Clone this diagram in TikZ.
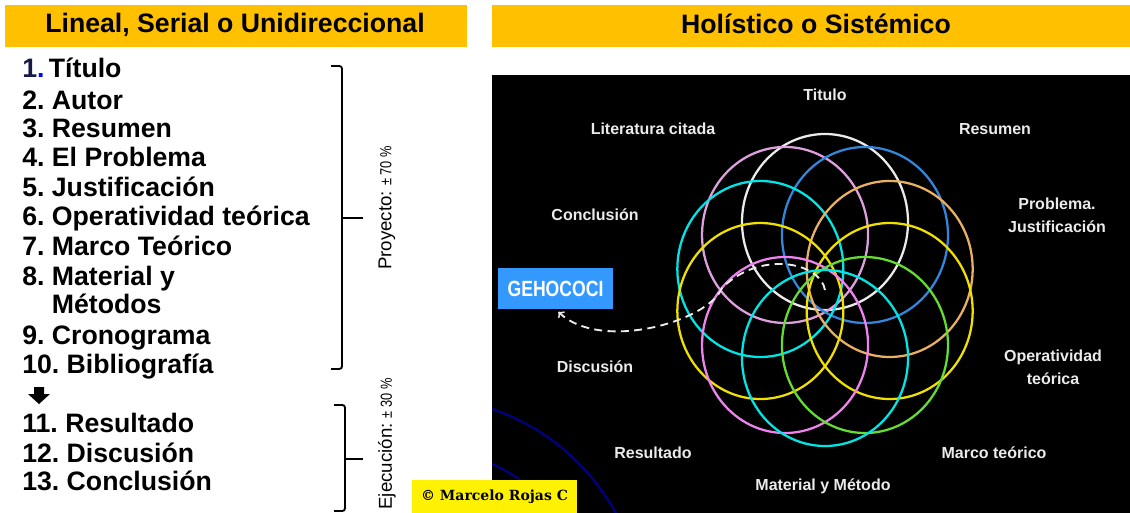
\documentclass[tikz,border=0pt]{standalone}
\usepackage{fontspec}
\setmainfont{Liberation Sans}
\newfontfamily\narrowfont[FakeStretch=0.8]{Liberation Sans}
\newfontfamily\copyfont{DejaVu Serif}
\usetikzlibrary{arrows,positioning,calc}
\definecolor{orange1}{RGB}{255,192,0}
\definecolor{gehoblue}{RGB}{51,153,255}
\definecolor{navy1}{RGB}{0,0,128}
\definecolor{dark1}{RGB}{25,25,70}
\definecolor{cwhite}{RGB}{235,235,235}
\definecolor{cplum}{RGB}{221,160,221}
\definecolor{cblue}{RGB}{50,135,220}
\definecolor{ccyan}{RGB}{0,230,230}
\definecolor{ctan}{RGB}{232,176,96}
\definecolor{cyellow}{RGB}{240,224,0}
\definecolor{cviolet}{RGB}{238,130,238}
\definecolor{cgreen}{RGB}{100,220,50}
\frenchspacing

\begin{document}
\begin{tikzpicture}
[x=0.75pt,y=-0.75pt,
header/.style={anchor=base, inner sep=0pt,
font=\bfseries\fontsize{20}{24}\selectfont},
item/.style={anchor=base west, inner sep=0pt,
font=\bfseries\fontsize{20}{24}\selectfont},
lbl/.style={text=cwhite, align=center, inner sep=0pt,
font=\bfseries\fontsize{12}{17}\selectfont},
ring/.style={line width=1.7pt},
brace/.style={line width=1.4pt, rounded corners=2pt},
side/.style={rotate=90, inner sep=0pt}]
\useasboundingbox (0,0) rectangle (1130,513);

% titulos
\fill [orange1] (5,5) rectangle (467,47);
\fill [orange1] (492,5) rectangle (1130,47);
\node [header] (hl) at (235,33) {Lineal, Serial o Unidireccional};
\node [header] (hr) at (816,34) {Holístico o Sistémico};

% lista lineal
\node [item] (i1)  at (22,78)  {\textcolor{dark1}{1}\textcolor{blue}{.}\,Título};
\node [item] (i2)  at (22,110) {2. Autor};
\node [item] (i3)  at (22,138) {3. Resumen};
\node [item] (i4)  at (22,167) {4. El Problema};
\node [item] (i5)  at (22,197) {5. Justificación};
\node [item] (i6)  at (22,225) {6. Operatividad teórica};
\node [item] (i7)  at (22,255) {7. Marco Teórico};
\node [item] (i8)  at (22,285) {8. Material y};
\node [item] (i8b) at (22,313) {\hphantom{8. }Métodos};
\node [item] (i9)  at (22,344) {9. Cronograma};
\node [item] (i10) at (22,373) {10. Bibliografía};
\node [item] (i11) at (22,432) {11. Resultado};
\node [item] (i12) at (22,462) {12. Discusión};
\node [item] (i13) at (22,490) {13. Conclusión};
\fill (34,387) -- (44,387) -- (44,394) -- (50,394) -- (39,404) -- (28,394) -- (34,394) -- cycle;

% llaves
\draw [brace] (331,66) -| (342,218) |- (331,369);
\draw [brace] (342,218) -- (363,218);
\draw [brace] (334,405) -| (345,459) |- (334,511);
\draw [brace] (345,459) -- (363,459);
\node [side] (proy) at (387,208) {\fontsize{14}{16}\selectfont Proyecto: {\narrowfont\fontsize{12}{14}\selectfont ± 70 \%}};
\node [side] (ejec) at (387,444) {\fontsize{14}{16}\selectfont Ejecución: {\narrowfont\fontsize{12}{14}\selectfont ± 30 \%}};

% panel holistico
\fill [black] (492,75) rectangle (1130,513);
\begin{scope}
\clip (492,75) rectangle (1130,513);
\draw [navy1, line width=1.7pt] (420,620) circle [radius=223];
\draw [navy1, line width=1.7pt] (420,620) circle [radius=172];
\end{scope}

\coordinate (ctr) at (825,290);
\foreach \a/\c in {-90/cwhite, -126/cplum, -54/cblue, 198/ccyan, -18/ctan,
162/cyellow, 18/cyellow, 126/cviolet, 54/cgreen, 90/ccyan}
\draw [ring, \c] ($(ctr)+(\a:68)$) ellipse [x radius=83, y radius=88];

\node [lbl] (tit) at (825,95)  {Titulo};
\node [lbl] (lit) at (653,129) {Literatura citada};
\node [lbl] (res) at (995,129) {Resumen};
\node [lbl] (con) at (595,215) {Conclusión};
\node [lbl] (pro) at (1057,215) {Problema.\\Justificación};
\node [lbl] (dis) at (595,367) {Discusión};
\node [lbl] (ope) at (1053,367) {Operatividad\\teórica};
\node [lbl] (rsl) at (653,453) {Resultado};
\node [lbl] (mar) at (994,453) {Marco teórico};
\node [lbl] (mat) at (823,486) {Material y Método};

\node [fill=gehoblue, text=white, minimum width=86pt, minimum height=30.5pt,
inner sep=0pt, font=\narrowfont\bfseries\fontsize{16.5}{18}\selectfont] (geho) at (555.5,288.5) {GEHOCOCI};
\draw [cwhite, line width=1.4pt, dash pattern=on 6pt off 4pt, ->, shorten >=3pt]
(ctr) .. controls (820,262) and (760,250) .. (722,288)
.. controls (708,322) and (600,352) .. (geho.south);

\node [fill=yellow, minimum width=124pt, minimum height=25pt, inner sep=0pt,
font=\copyfont\bfseries\fontsize{10.5}{12}\selectfont] (copy) at (494.5,496.5) {© Marcelo Rojas C};
\end{tikzpicture}
\end{document}
